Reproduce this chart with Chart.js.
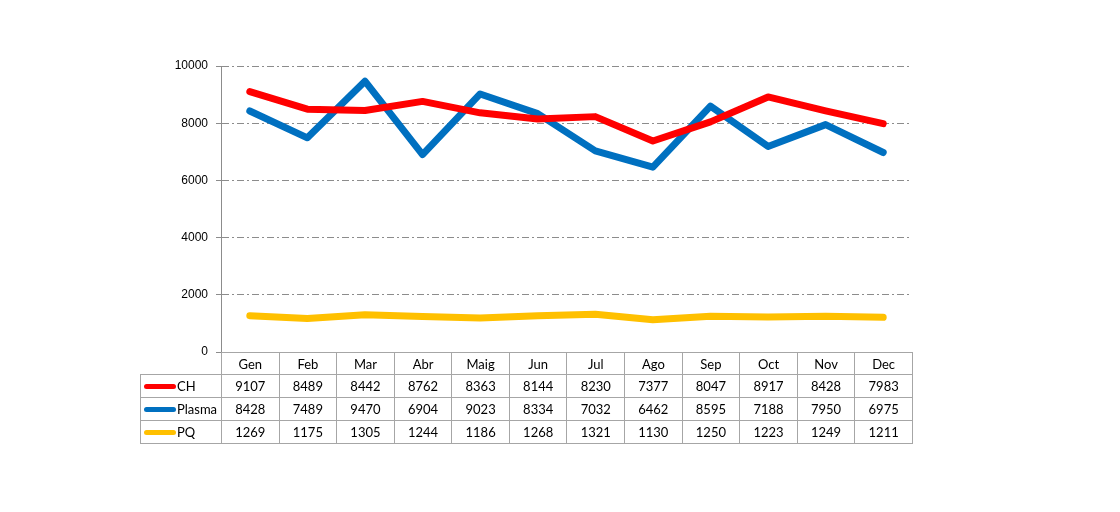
<!DOCTYPE html>
<html>
<head>
<meta charset="utf-8">
<script src="https://cdn.jsdelivr.net/npm/chart.js@4"></script>
<style>
  html, body { margin: 0; padding: 0; background: #fff; }
  #wrap { position: relative; width: 1120px; height: 512px; }
  #dataTable {
    position: absolute;
    border-collapse: collapse;
    table-layout: fixed;
    font-family: Lato, "Open Sans", sans-serif;
    font-size: 13px;
    color: #000;
  }
  #dataTable td {
    border: 1px solid #a6a6a6;
    text-align: center;
    padding: 0;
    white-space: nowrap;
    overflow: hidden;
  }
  #dataTable td.name { text-align: left; padding-left: 3px; }
  #dataTable td.blank { border-top: none; border-left: none; }
  .key {
    display: inline-block;
    width: 32px; height: 5px;
    border-radius: 3px;
    vertical-align: middle;
    margin-right: 1px;
    position: relative; top: -1px;
  }
</style>
</head>
<body>
<div id="wrap">
  <canvas id="chart" width="1120" height="512"></canvas>
  <table id="dataTable"></table>
</div>
<script>
const months = ['Gen', 'Feb', 'Mar', 'Abr', 'Maig', 'Jun', 'Jul', 'Ago', 'Sep', 'Oct', 'Nov', 'Dec'];
const ch = [9107, 8489, 8442, 8762, 8363, 8144, 8230, 7377, 8047, 8917, 8428, 7983];
const plasma = [8428, 7489, 9470, 6904, 9023, 8334, 7032, 6462, 8595, 7188, 7950, 6975];
const pq = [1269, 1175, 1305, 1244, 1186, 1268, 1321, 1130, 1250, 1223, 1249, 1211];

const seriesNames = ['CH', 'Plasma', 'PQ'];
const seriesColors = ['#ff0000', '#0070c0', '#ffc000'];
const seriesData = [ch, plasma, pq];

const ctx = document.getElementById('chart');
const chart = new Chart(ctx, {
    type: 'line',
    data: {
        labels: months,
        datasets: seriesData.map((d, i) => ({
            label: seriesNames[i],
            data: d,
            borderColor: seriesColors[i],
            backgroundColor: seriesColors[i],
            borderWidth: 7,
            borderJoinStyle: 'round',
            borderCapStyle: 'round',
            pointRadius: 0,
            tension: 0
        }))
    },
    options: {
        responsive: false,
        animation: false,
        layout: { padding: { left: 141, right: 208, top: 66, bottom: 160 } },
        plugins: { legend: { display: false }, tooltip: { enabled: false } },
        scales: {
            x: {
                display: false,
                offset: true
            },
            y: {
                min: 0,
                max: 10000,
                afterFit: s => { s.width = 80; },
                ticks: {
                    stepSize: 2000,
                    color: '#000',
                    padding: 8,
                    font: { family: 'Liberation Sans, Arial', size: 12 },
                    callback: v => String(v)
                },
                grid: {
                    color: '#8c8c8c',
                    tickBorderDash: [],
                    tickLength: 5,
                    tickColor: '#8c8c8c'
                },
                border: { display: true, color: '#8c8c8c', width: 1, dash: [7, 3, 2, 3] }
            }
        }
    }
});

// data table under the plot, aligned to the category bands
function buildTable() {
    const area = chart.chartArea;
    const band = area.width / months.length;
    const firstW = 81;
    const table = document.getElementById('dataTable');
    table.style.left = (area.left - firstW) + 'px';
    table.style.top = (area.bottom) + 'px';
    table.style.width = (firstW + area.width) + 'px';

    let html = '<colgroup><col style="width:' + firstW + 'px">';
    months.forEach(() => { html += '<col style="width:' + band + 'px">'; });
    html += '</colgroup>';
    html += '<tr style="height:22px"><td class="blank"></td>';
    months.forEach(m => { html += '<td>' + m + '</td>'; });
    html += '</tr>';
    seriesData.forEach((d, i) => {
        html += '<tr style="height:23px"><td class="name"><span class="key" style="background:' +
            seriesColors[i] + '"></span>' + seriesNames[i] + '</td>';
        d.forEach(v => { html += '<td>' + v + '</td>'; });
        html += '</tr>';
    });
    table.innerHTML = html;
}
buildTable();
</script>
</body>
</html>
